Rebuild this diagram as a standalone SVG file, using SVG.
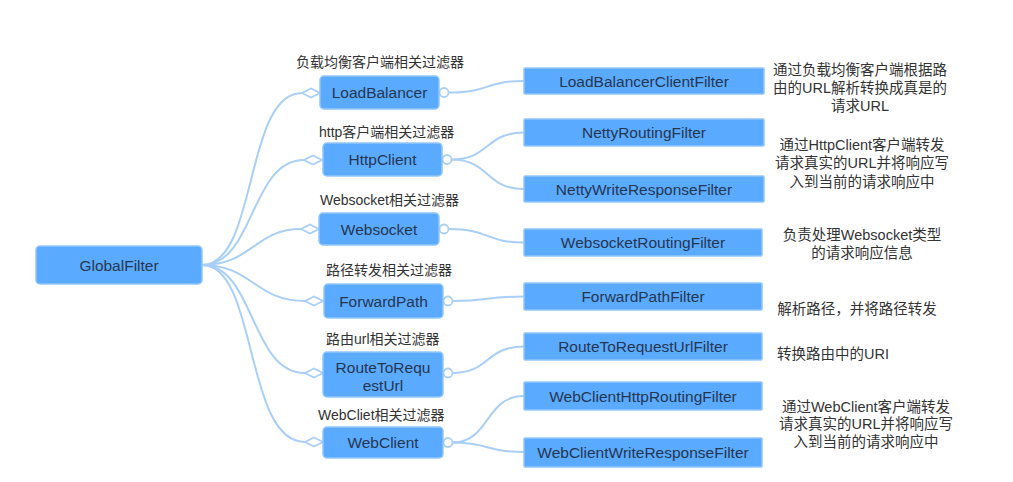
<svg xmlns="http://www.w3.org/2000/svg" width="1013" height="482" viewBox="0 0 1013 482">
<style>
.bg{fill:#ffffff}
.n{fill:#5aabff;stroke:#93c6fb;stroke-width:1.5}
.nt{font-family:"Liberation Sans","Noto Sans CJK SC",sans-serif;font-size:15.5px;fill:#263650;text-anchor:middle}
.lb{font-family:"Liberation Sans","Noto Sans CJK SC",sans-serif;font-size:14px;fill:#333333}
.ds{font-family:"Liberation Sans","Noto Sans CJK SC",sans-serif;font-size:14.5px;fill:#333333;text-anchor:middle}
.c{fill:none;stroke:#a9cff7;stroke-width:2}
.dm{fill:#ffffff;stroke:#a9cff7;stroke-width:1.8}
</style>
<rect class="bg" x="0" y="0" width="1013" height="482"/>
<g id="connectors">
  <path class="c" d="M202,265 C258,265 244,93 302,93"/>
  <path class="c" d="M202,265 C255,265 250,160 304,160"/>
  <path class="c" d="M202,265 C252,265 255,229 301,229"/>
  <path class="c" d="M202,265 C252,265 255,301 305,301"/>
  <path class="c" d="M202,265 C255,265 250,373 305,373"/>
  <path class="c" d="M202,265 C258,265 244,442 305,442"/>
  <polygon class="dm" points="302,93 311,88.5 320,93 311,97.5"/>
  <polygon class="dm" points="304,160 313,155.5 322,160 313,164.5"/>
  <polygon class="dm" points="301,229 310,224.5 319,229 310,233.5"/>
  <polygon class="dm" points="305,301 314,296.5 323,301 314,305.5"/>
  <polygon class="dm" points="305,373 314,368.5 323,373 314,377.5"/>
  <polygon class="dm" points="305,442 314,437.5 323,442 314,446.5"/>
  <path class="c" d="M448.5,92.5 C490,92.5 485,81 524,81"/>
  <path class="c" d="M451.5,159.5 C490,159.5 485,132.5 524,132.5"/>
  <path class="c" d="M451.5,159.5 C490,159.5 485,189 524,189"/>
  <path class="c" d="M448.5,229 C490,229 485,242.5 524,242.5"/>
  <path class="c" d="M452.5,301 C490,301 485,296.5 524,296.5"/>
  <path class="c" d="M452.5,373 C490,373 485,346.5 524,346.5"/>
  <path class="c" d="M452.5,442.5 C490,442.5 485,396 524,396"/>
  <path class="c" d="M452.5,442.5 C490,442.5 485,452 524,452"/>
  <circle class="dm" cx="444" cy="92.5" r="4.5"/>
  <circle class="dm" cx="447" cy="159.5" r="4.5"/>
  <circle class="dm" cx="444" cy="229" r="4.5"/>
  <circle class="dm" cx="448" cy="301" r="4.5"/>
  <circle class="dm" cx="448" cy="373" r="4.5"/>
  <circle class="dm" cx="448" cy="442.5" r="4.5"/>
</g>
<g id="GlobalFilter"><rect class="n" x="36" y="246" width="166" height="38" rx="4"/><text class="nt" x="119" y="270.5">GlobalFilter</text></g>

<g id="LoadBalancer"><text class="lb" x="296" y="67">负载均衡客户端相关过滤器</text><rect class="n" x="320" y="76" width="119" height="33" rx="4"/><text class="nt" x="379.5" y="98">LoadBalancer</text></g>
<g id="HttpClient"><text class="lb" x="319" y="137">http客户端相关过滤器</text><rect class="n" x="323" y="143" width="119" height="33" rx="4"/><text class="nt" x="382.5" y="165">HttpClient</text></g>
<g id="Websocket"><text class="lb" x="320" y="205">Websocket相关过滤器</text><rect class="n" x="319" y="213" width="120" height="32" rx="4"/><text class="nt" x="379" y="234.5">Websocket</text></g>
<g id="ForwardPath"><text class="lb" x="326" y="275">路径转发相关过滤器</text><rect class="n" x="324" y="284" width="119" height="34" rx="4"/><text class="nt" x="383.5" y="306.5">ForwardPath</text></g>
<g id="RouteToRequestUrl"><text class="lb" x="326" y="344">路由url相关过滤器</text><rect class="n" x="323" y="352" width="120" height="45" rx="4"/><text class="nt" x="383" y="372.5">RouteToRequ</text><text class="nt" x="383" y="390.5">estUrl</text></g>
<g id="WebClient"><text class="lb" x="318" y="420">WebCliet相关过滤器</text><rect class="n" x="323" y="427" width="120" height="31" rx="4"/><text class="nt" x="383" y="448">WebClient</text></g>

<g id="LoadBalancerClientFilter"><rect class="n" x="524" y="68" width="240" height="26" rx="1"/><text class="nt" x="644" y="86.5">LoadBalancerClientFilter</text></g>
<g id="NettyRoutingFilter"><rect class="n" x="524" y="119" width="240" height="27" rx="1"/><text class="nt" x="644" y="138">NettyRoutingFilter</text></g>
<g id="NettyWriteResponseFilter"><rect class="n" x="524" y="176" width="240" height="26" rx="1"/><text class="nt" x="644" y="194.5">NettyWriteResponseFilter</text></g>
<g id="WebsocketRoutingFilter"><rect class="n" x="524" y="229" width="238" height="27" rx="1"/><text class="nt" x="643" y="248">WebsocketRoutingFilter</text></g>
<g id="ForwardPathFilter"><rect class="n" x="524" y="283" width="238" height="27" rx="1"/><text class="nt" x="643" y="302">ForwardPathFilter</text></g>
<g id="RouteToRequestUrlFilter"><rect class="n" x="524" y="333" width="238" height="27" rx="1"/><text class="nt" x="643" y="352">RouteToRequestUrlFilter</text></g>
<g id="WebClientHttpRoutingFilter"><rect class="n" x="524" y="382" width="238" height="28" rx="1"/><text class="nt" x="643" y="401.5">WebClientHttpRoutingFilter</text></g>
<g id="WebClientWriteResponseFilter"><rect class="n" x="524" y="438" width="238" height="29" rx="1"/><text class="nt" x="643" y="458">WebClientWriteResponseFilter</text></g>

<g id="desc-loadbalancer"><text class="ds" x="860" y="75">通过负载均衡客户端根据路</text><text class="ds" x="860" y="93">由的URL解析转换成真是的</text><text class="ds" x="860" y="111">请求URL</text></g>
<g id="desc-httpclient"><text class="ds" x="862" y="150">通过HttpClient客户端转发</text><text class="ds" x="862" y="168">请求真实的URL并将响应写</text><text class="ds" x="862" y="187">入到当前的请求响应中</text></g>
<g id="desc-websocket"><text class="ds" x="862" y="240">负责处理Websocket类型</text><text class="ds" x="862" y="258">的请求响应信息</text></g>
<g id="desc-forward"><text class="ds" x="857" y="314">解析路径，并将路径转发</text></g>
<g id="desc-route"><text class="ds" x="833" y="359">转换路由中的URI</text></g>
<g id="desc-webclient"><text class="ds" x="866" y="412">通过WebClient客户端转发</text><text class="ds" x="866" y="429">请求真实的URL并将响应写</text><text class="ds" x="866" y="447">入到当前的请求响应中</text></g>
</svg>
